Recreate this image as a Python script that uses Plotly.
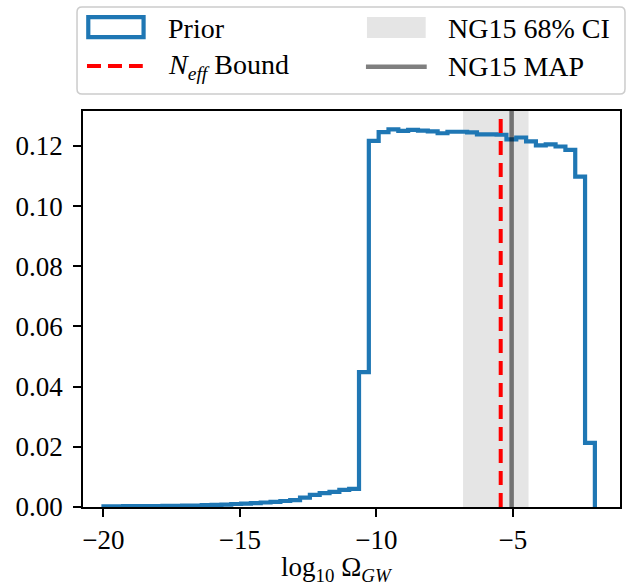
import numpy as np
import plotly.graph_objects as go

# ---------------- data ----------------
bin_start = -20.0
bin_stop = -2.0
n_bins = 50
prior_density = [
    0.0002, 0.0002, 0.0003, 0.0003, 0.0003, 0.0003, 0.0004, 0.0004, 0.0005, 0.0005,
    0.0006, 0.0007, 0.0008, 0.0010, 0.0011, 0.0013, 0.0015, 0.0017, 0.0020, 0.0023,
    0.0031, 0.0040, 0.0046, 0.0050, 0.0057, 0.0060, 0.0448, 0.1217, 0.1246, 0.1255,
    0.1250, 0.1253, 0.1251, 0.1248, 0.1242, 0.1247, 0.1247, 0.1245, 0.1238, 0.1238,
    0.1237, 0.1222, 0.1228, 0.1215, 0.1202, 0.1205, 0.1198, 0.1187, 0.1098, 0.0213,
]
ng15_ci = [-6.83, -4.43]
ng15_map = -5.05
neff_bound = -5.45
x_ticks = [-20, -15, -10, -5]
y_ticks = [0.00, 0.02, 0.04, 0.06, 0.08, 0.10, 0.12]
legend_labels = ["Prior", "<i>N</i><sub><i>eff</i></sub> Bound", "NG15 68% CI", "NG15 MAP"]
x_title = "log<sub>10</sub> \u03a9<sub><i>GW</i></sub>"

# ---------------- geometry ----------------
W_FIG, H_FIG = 628, 588
L, R, T, B = 83, 6, 111, 81
PW = W_FIG - L - R
PH = H_FIG - T - B
FONT = "Liberation Serif"
BLUE = "#1f77b4"
MAPC = "rgba(0,0,0,0.5)"
CIC = "rgba(0,0,0,0.1)"


def xp(px):
    return (px - L) / PW


def yp(py):
    return (H_FIG - B - py) / PH


edges = np.linspace(bin_start, bin_stop, n_bins + 1)
step_x = [edges[0]] + list(edges)
step_y = [0.0] + list(prior_density) + [0.0]

fig = go.Figure()

fig.add_shape(type="rect", xref="x", yref="paper", x0=ng15_ci[0], x1=ng15_ci[1],
              y0=0, y1=1, fillcolor=CIC, line=dict(width=0), layer="below")

fig.add_trace(go.Scatter(x=step_x, y=step_y, mode="lines", line_shape="hv",
                         line=dict(color=BLUE, width=4.2), showlegend=False,
                         hoverinfo="skip"))

fig.add_shape(type="line", xref="x", yref="paper", x0=neff_bound, x1=neff_bound,
              y0=0, y1=1, line=dict(color="#ff0000", width=4, dash="14px,8px"),
              layer="above")
fig.add_shape(type="line", xref="x", yref="paper", x0=ng15_map, x1=ng15_map,
              y0=0, y1=1, line=dict(color=MAPC, width=4.5), layer="above")

# ---------------- legend (manual) ----------------
bx0, bx1, by0, by1, r = 77, 627, 7, 94, 5
path = (f"M{xp(bx0 + r)},{yp(by0)} L{xp(bx1 - r)},{yp(by0)} "
        f"Q{xp(bx1)},{yp(by0)} {xp(bx1)},{yp(by0 + r)} "
        f"L{xp(bx1)},{yp(by1 - r)} Q{xp(bx1)},{yp(by1)} {xp(bx1 - r)},{yp(by1)} "
        f"L{xp(bx0 + r)},{yp(by1)} Q{xp(bx0)},{yp(by1)} {xp(bx0)},{yp(by1 - r)} "
        f"L{xp(bx0)},{yp(by0 + r)} Q{xp(bx0)},{yp(by0)} {xp(bx0 + r)},{yp(by0)} Z")
fig.add_shape(type="path", xref="paper", yref="paper", path=path,
              fillcolor="white", line=dict(color="#cccccc", width=1.5), layer="above")

fig.add_shape(type="rect", xref="paper", yref="paper", x0=xp(88.3), x1=xp(143.8),
              y0=yp(37.2), y1=yp(17.2), line=dict(color=BLUE, width=4.2),
              fillcolor="rgba(0,0,0,0)", layer="above")
fig.add_shape(type="line", xref="paper", yref="paper", x0=xp(87), x1=xp(143),
              y0=yp(66), y1=yp(66), line=dict(color="#ff0000", width=4, dash="14px,7px"),
              layer="above")
fig.add_shape(type="rect", xref="paper", yref="paper", x0=xp(368), x1=xp(427),
              y0=yp(38), y1=yp(17), line=dict(width=0), fillcolor=CIC, layer="above")
fig.add_shape(type="line", xref="paper", yref="paper", x0=xp(367), x1=xp(428),
              y0=yp(66.7), y1=yp(66.7), line=dict(color=MAPC, width=4.5), layer="above")

leg_pos = [(166, 28), (166, 66), (447, 28), (447, 66)]
for lab, (lx, ly) in zip(legend_labels, leg_pos):
    fig.add_annotation(text=lab, xref="paper", yref="paper", x=xp(lx), y=yp(ly),
                       xanchor="left", yanchor="middle", showarrow=False,
                       font=dict(family=FONT, size=28, color="black"))

fig.add_annotation(text=x_title, xref="paper", yref="paper", x=xp(338), y=yp(569),
                   xanchor="center", yanchor="middle", showarrow=False,
                   font=dict(family=FONT, size=27, color="black"))

axis_common = dict(showline=True, linecolor="black", linewidth=1.5, mirror=True,
                   ticks="outside", ticklen=8, tickwidth=1.5, tickcolor="black",
                   showgrid=False, zeroline=False,
                   tickfont=dict(family=FONT, size=27, color="black"))

fig.update_layout(
    width=W_FIG, height=H_FIG,
    margin=dict(l=L, r=R, t=T, b=B),
    paper_bgcolor="white", plot_bgcolor="white",
    showlegend=False,
    xaxis=dict(range=[-20.75, -1.08], tickvals=x_ticks, **axis_common),
    yaxis=dict(range=[0, 0.1316], tickvals=y_ticks, tickformat=".2f",
               ticklabelstandoff=5, **axis_common),
)

fig.write_html("out.html")
